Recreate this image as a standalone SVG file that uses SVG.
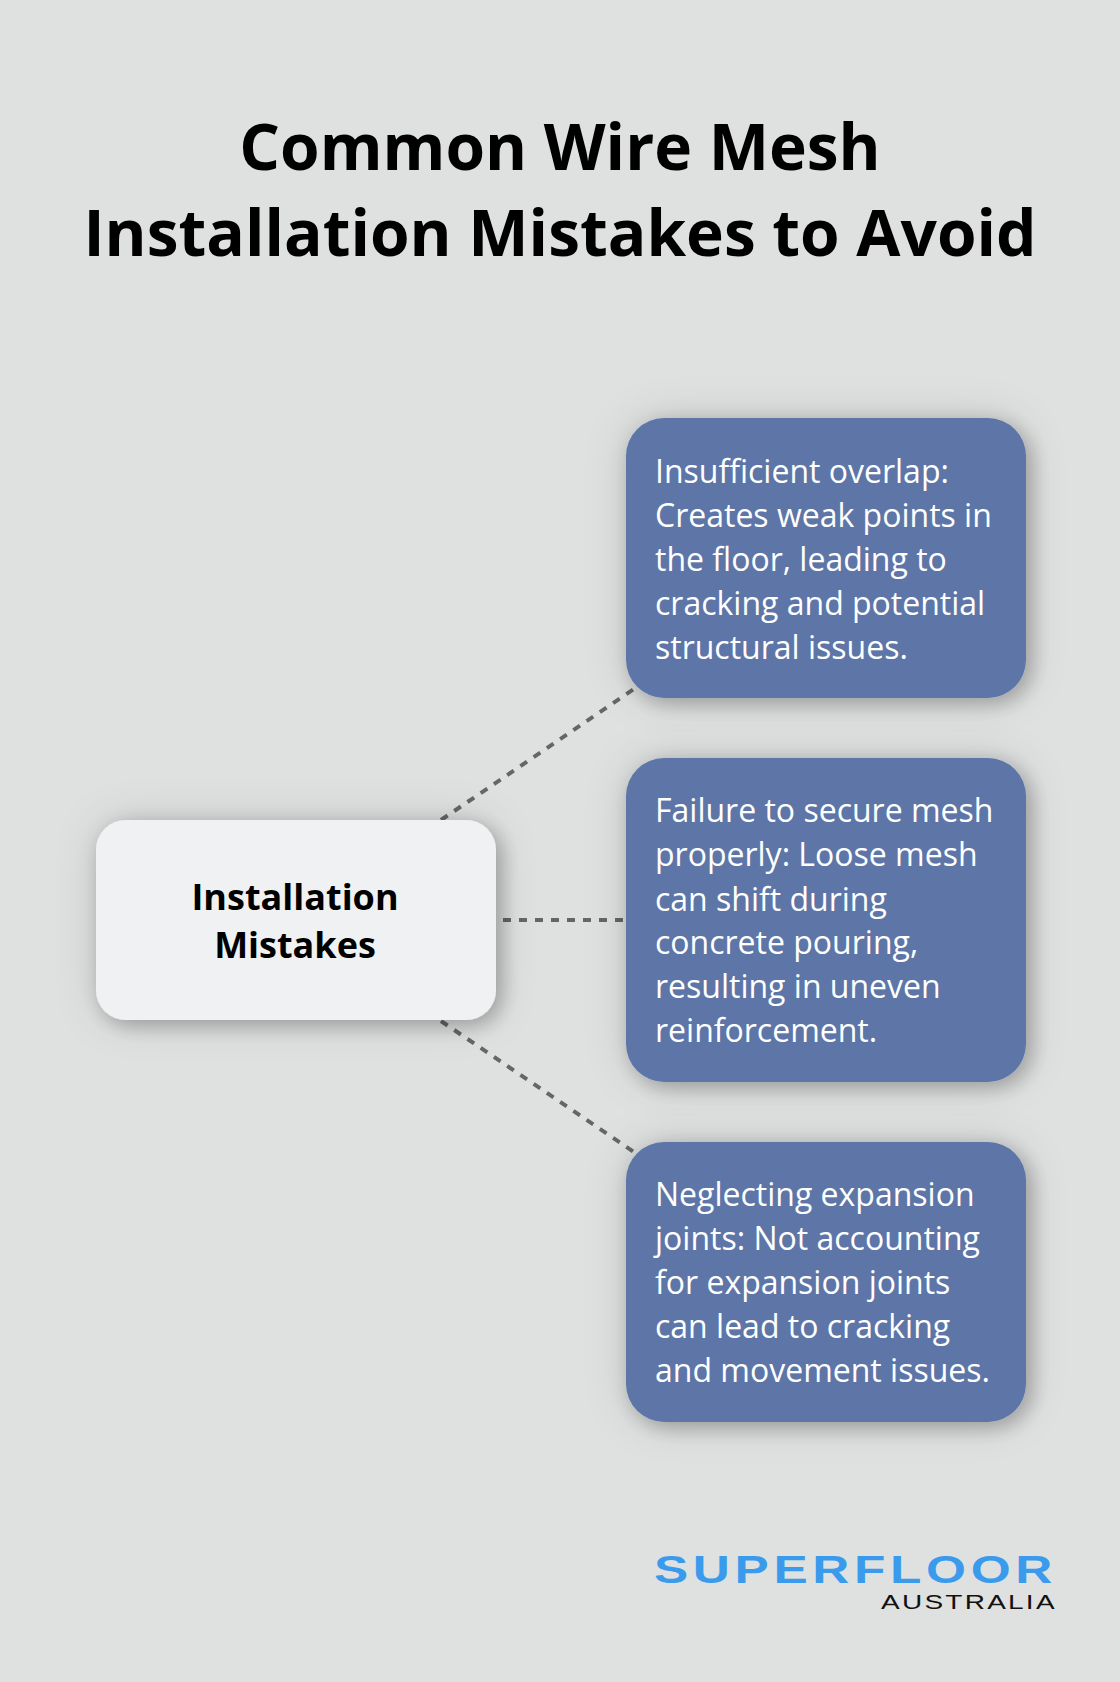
<svg xmlns="http://www.w3.org/2000/svg" width="1120" height="1682" viewBox="0 0 1120 1682">
<defs>
<style>
text{font-family:"Open Sans","Noto Sans",sans-serif}
.t{font-size:64px;font-weight:700;fill:#000;text-anchor:middle}
.h{font-size:36px;font-weight:700;fill:#000;text-anchor:middle}
.b{font-size:32px;fill:#fff}
.c{fill:none;stroke:#666;stroke-width:4;stroke-dasharray:8 8}
.n{fill:#5d76a7;filter:url(#s)}
.m{fill:#eff1f3;filter:url(#s)}
.l{font-family:"Liberation Sans",sans-serif}
</style>
<filter id="s" x="-25%" y="-25%" width="150%" height="150%">
<feGaussianBlur in="SourceAlpha" stdDeviation="10" result="a"/>
<feOffset in="a" dx="6" dy="6" result="a1"/>
<feFlood flood-color="#000" flood-opacity="0.24"/>
<feComposite in2="a1" operator="in" result="s1"/>
<feGaussianBlur in="SourceAlpha" stdDeviation="20" result="b"/>
<feFlood flood-color="#000" flood-opacity="0.15"/>
<feComposite in2="b" operator="in" result="s2"/>
<feMerge><feMergeNode in="s2"/><feMergeNode in="s1"/><feMergeNode in="SourceGraphic"/></feMerge>
</filter>
</defs>
<rect width="1120" height="1682" fill="#dfe1e0"/>
<text class="t" x="560" y="170">Common Wire Mesh</text>
<text class="t" x="560" y="256">Installation Mistakes to Avoid</text>
<g id="connectors">
<line class="c" x1="441" y1="820" x2="634" y2="689"/>
<line class="c" x1="503" y1="920" x2="626" y2="920"/>
<line class="c" x1="441" y1="1021" x2="634" y2="1152"/>
</g>
<g id="node-main"><rect class="m" x="96" y="820" width="400" height="200" rx="30"/>
<text class="h" x="295" y="910">Installation</text><text class="h" x="295" y="958">Mistakes</text></g>
<g id="node-1"><rect class="n" x="626" y="418" width="400" height="280" rx="38"/>
<text class="b"><tspan x="655" y="482.5">Insufficient overlap:</tspan><tspan x="655" y="526.5">Creates weak points in</tspan><tspan x="655" y="570.5">the floor, leading to</tspan><tspan x="655" y="614.5">cracking and potential</tspan><tspan x="655" y="658.5">structural issues.</tspan></text></g>
<g id="node-2"><rect class="n" x="626" y="758" width="400" height="324" rx="38"/>
<text class="b"><tspan x="655" y="822">Failure to secure mesh</tspan><tspan x="655" y="866">properly: Loose mesh</tspan><tspan x="655" y="910.5">can shift during</tspan><tspan x="655" y="954">concrete pouring,</tspan><tspan x="655" y="998">resulting in uneven</tspan><tspan x="655" y="1042">reinforcement.</tspan></text></g>
<g id="node-3"><rect class="n" x="626" y="1142" width="400" height="280" rx="38"/>
<text class="b"><tspan x="655" y="1206">Neglecting expansion</tspan><tspan x="655" y="1250">joints: Not accounting</tspan><tspan x="655" y="1294">for expansion joints</tspan><tspan x="655" y="1338">can lead to cracking</tspan><tspan x="655" y="1382">and movement issues.</tspan></text></g>
<g id="logo">
<text class="l" transform="translate(654 1583) scale(1.35 1)" font-size="38" font-weight="700" fill="#3a9bec" textLength="295" lengthAdjust="spacing">SUPERFLOOR</text>
<text class="l" transform="translate(881 1609) scale(1.4 1)" font-size="20" fill="#111" textLength="124" lengthAdjust="spacing">AUSTRALIA</text>
</g>
</svg>
